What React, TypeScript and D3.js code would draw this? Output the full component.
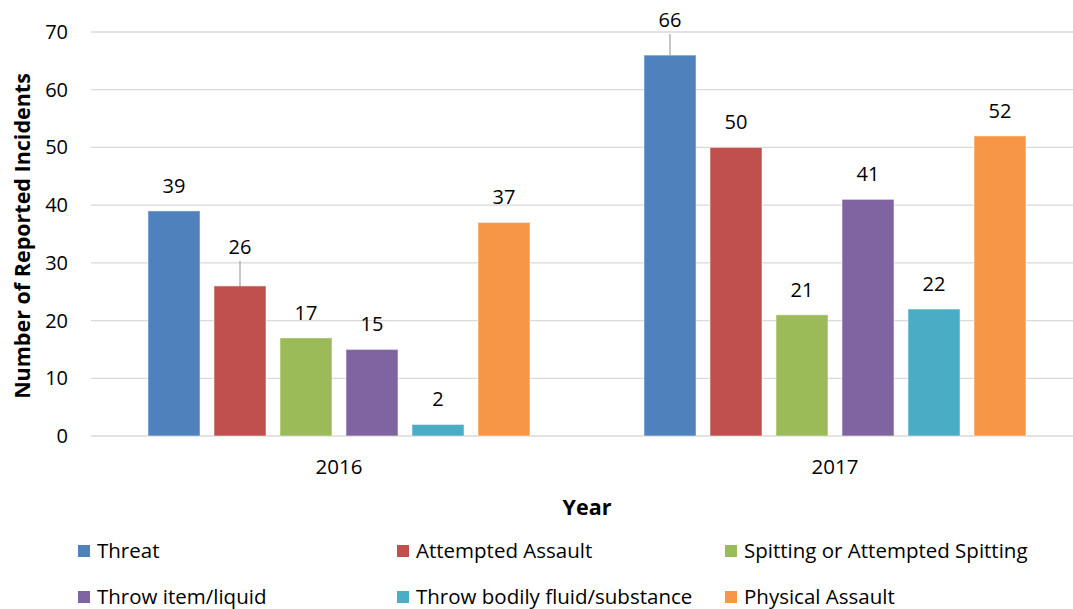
import { useMemo } from "react";
import { scaleBand, scaleLinear } from "d3";

const years = ["2016", "2017"];
const seriesNames = [
  "Threat",
  "Attempted Assault",
  "Spitting or Attempted Spitting",
  "Throw item/liquid",
  "Throw bodily fluid/substance",
  "Physical Assault",
];
const seriesColors = ["#4F81BD", "#C0504D", "#9BBB59", "#8064A2", "#4BACC6", "#F79646"];
const values2016 = [39, 26, 17, 15, 2, 37];
const values2017 = [66, 50, 21, 41, 22, 52];
const yTicks = [0, 10, 20, 30, 40, 50, 60, 70];
// labels that Excel nudged upward and joined to the bar with a leader line
const labelShift2016 = [0, 14, 0, 0, 0, 0];
const labelShift2017 = [10, 0, 0, 0, 0, 0];

const W = 1073;
const H = 609;
const FONT = "'Open Sans', Lato, sans-serif";

export default function App() {
  const left = 91;
  const right = 1083;
  const top = 32;
  const bottom = 436;

  const x = useMemo(
    () => scaleBand<string>().domain(years).range([left, right]).paddingInner(0).paddingOuter(0),
    []
  );
  const inner = useMemo(
    () =>
      scaleBand<string>()
        .domain(seriesNames)
        .range([57, x.bandwidth() - 57])
        .paddingInner(14 / 66)
        .paddingOuter(0),
    [x]
  );
  const y = useMemo(() => scaleLinear().domain([0, 70]).range([bottom, top]), []);

  const allValues = [values2016, values2017];
  const allShifts = [labelShift2016, labelShift2017];

  const legendCols = [78, 397, 725];
  const legendRows = [551, 597];

  return (
    <div style={{ position: "absolute", left: 0, top: 0 }}>
      <svg width={W} height={H} style={{ display: "block", background: "#fff" }} fontFamily={FONT}>
        {yTicks.map((t) => (
          <g key={t}>
            <line x1={left} x2={right} y1={y(t)} y2={y(t)} stroke="#D9D9D9" strokeWidth={1.3} />
            <text x={68} y={y(t)} dy="0.35em" textAnchor="end" fontSize={20} fill="#000">
              {t}
            </text>
          </g>
        ))}

        {years.map((yr, gi) => (
          <g key={yr} transform={`translate(${x(yr)},0)`}>
            {seriesNames.map((s, si) => {
              const v = allValues[gi][si];
              const bx = inner(s)!;
              const bw = inner.bandwidth();
              const shift = allShifts[gi][si];
              const barTop = y(v);
              const labelY = barTop - 18 - shift;
              return (
                <g key={s}>
                  <rect
                    x={bx}
                    y={barTop}
                    width={bw}
                    height={bottom - barTop}
                    fill={seriesColors[si]}
                    stroke="#fff"
                    strokeOpacity={0.5}
                    strokeWidth={1}
                  />
                  {shift > 0 && (
                    <line
                      x1={bx + bw / 2}
                      x2={bx + bw / 2}
                      y1={labelY + 7}
                      y2={barTop}
                      stroke="#A6A6A6"
                      strokeWidth={1.3}
                    />
                  )}
                  <text
                    x={bx + bw / 2}
                    y={labelY}
                    textAnchor="middle"
                    fontSize={20}
                    fill="#000"
                  >
                    {v}
                  </text>
                </g>
              );
            })}
            <text
              x={x.bandwidth() / 2}
              y={467}
              dy="0.35em"
              textAnchor="middle"
              fontSize={20.5}
              fill="#000"
            >
              {yr}
            </text>
          </g>
        ))}

        <text
          transform={`translate(22,${(top + bottom) / 2 + 2}) rotate(-90)`}
          textAnchor="middle"
          dy="0.35em"
          fontSize={21.5}
          fontWeight="bold"
          fill="#000"
        >
          Number of Reported Incidents
        </text>
        <text
          x={(left + right) / 2}
          y={507}
          dy="0.35em"
          textAnchor="middle"
          fontSize={21.5}
          fontWeight="bold"
          fill="#000"
        >
          Year
        </text>

        {seriesNames.map((s, i) => {
          const lx = legendCols[i % 3];
          const ly = legendRows[Math.floor(i / 3)];
          return (
            <g key={s}>
              <rect x={lx} y={ly - 6} width={12} height={12} fill={seriesColors[i]} />
              <text x={lx + 19} y={ly} dy="0.35em" fontSize={20.5} fill="#000">
                {s}
              </text>
            </g>
          );
        })}
      </svg>
    </div>
  );
}
